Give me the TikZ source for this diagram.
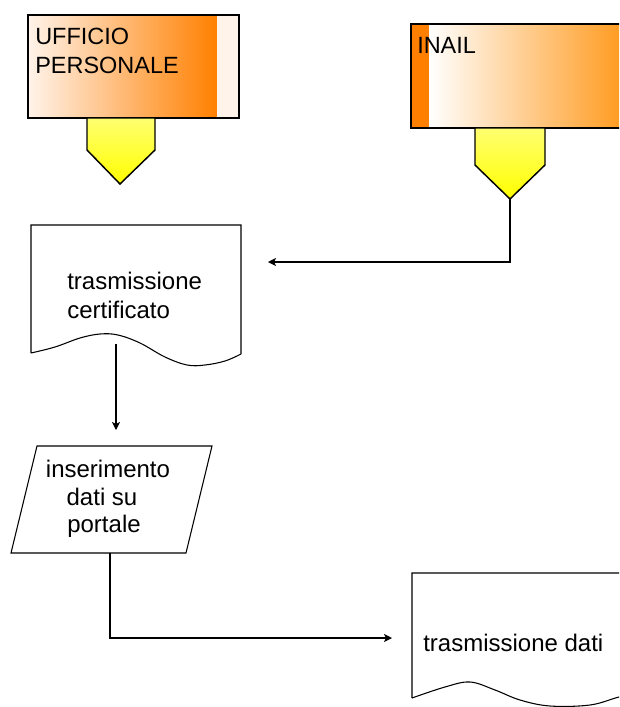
\documentclass[tikz,border=0pt]{standalone}
\usepackage{fontspec}
\setmainfont{Liberation Sans}
\usetikzlibrary{arrows.meta}
\definecolor{orangeC}{HTML}{FF8000}
\definecolor{peach}{HTML}{FFF3EA}
\definecolor{yellowL}{HTML}{FFFF70}
\definecolor{yellowD}{HTML}{FFFF00}
\tikzset{
  outline/.style={draw=black, line width=1.1pt},
  thinline/.style={draw=black, line width=0.8pt},
  conn/.style={draw=black, line width=0.8pt},
  arr/.style={conn, -{Stealth[length=6pt,width=6pt,inset=1.5pt]}},
  lbl/.style={inner sep=0pt, font=\fontsize{17.6pt}{21.6pt}\selectfont},
  lblb/.style={inner sep=0pt, font=\fontsize{18pt}{21.6pt}\selectfont},
}
\begin{document}
\begin{tikzpicture}[x=0.75pt,y=-0.75pt]
\useasboundingbox (0,0) rectangle (619,707);
\clip (0,0) rectangle (619,707);
\fill[white] (0,0) rectangle (619,707);

% UFFICIO PERSONALE box
\shade[left color=peach, right color=orangeC] (28,15) rectangle (217,118);
\fill[peach] (217,15) rectangle (239,118);
\draw[outline] (28,15) rectangle (239,118);
\node[lbl, anchor=base west] (uff1) at (35,44) {UFFICIO};
\node[lbl, anchor=base west] (uff2) at (35,73) {PERSONALE};
% pentagon
\shade[outline, top color=yellowL, bottom color=yellowD]
  (87,118) -- (155,118) -- (155,150) -- (120,184) -- (87,150) -- cycle;

% INAIL box
\fill[orangeC] (411,24) rectangle (429,128);
\shade[left color=white, right color=orangeC!90!yellow] (429,24) rectangle (650,128);
\draw[outline] (411,24) rectangle (650,128);
\node[lbl, anchor=base west] (inail) at (417,53) {INAIL};
\shade[outline, top color=yellowL, bottom color=yellowD]
  (475,128) -- (545,128) -- (545,165) -- (510,199) -- (475,165) -- cycle;
\coordinate (inailTip) at (510,199);

% document 1
\draw[thinline] (31,353) -- (31,225) -- (241,225) -- (241,354)
  plot[smooth, tension=0.6] coordinates {(241,354) (225,361) (205,365) (187,365) (165,357) (140,343) (118,335) (100,334) (80,338) (55,347) (31,353)};
\node[lblb, anchor=base west] (doc1a) at (67,289) {trasmissione};
\node[lblb, anchor=base west] (doc1b) at (67,318) {certificato};
\coordinate (doc1out) at (116,344);
\coordinate (arr1) at (268,262);

% parallelogram
\draw[thinline] (37,446) -- (212,446) -- (186,553) -- (11,553) -- cycle;
\node[lblb, anchor=base] (par1) at (108,477) {inserimento};
\node[lblb, anchor=base] (par2) at (102,505) {dati su};
\node[lblb, anchor=base] (par3) at (104,532) {portale};
\coordinate (parTop) at (116,430);
\coordinate (parOut) at (110,553);

% document 2
\draw[thinline] (412,698) -- (412,573) -- (650,573) -- (650,690)
  plot[smooth, tension=0.6] coordinates {(650,690) (619,697) (590,705) (550,706) (520,700) (495,690) (470,682) (445,687) (412,698)};
\node[lblb, anchor=base west] (doc2) at (423,651) {trasmissione dati};
\coordinate (arr2) at (392,638);

% connectors
\draw[arr] (inailTip) |- (arr1);
\draw[arr] (doc1out) -- (parTop);
\draw[arr] (parOut) |- (arr2);
\end{tikzpicture}
\end{document}
